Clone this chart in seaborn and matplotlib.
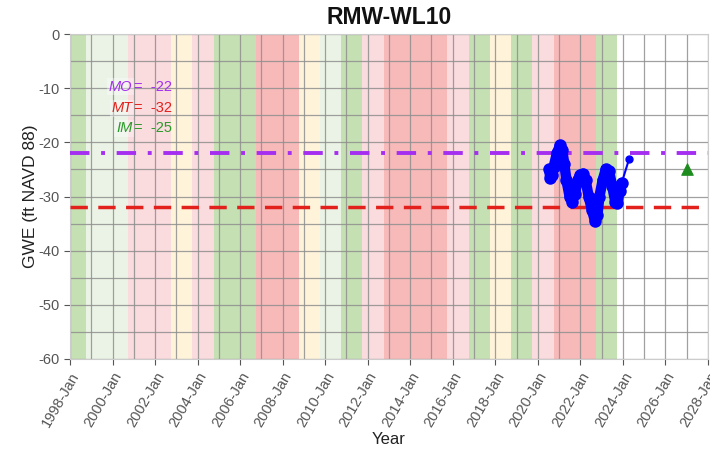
import matplotlib
matplotlib.use("Agg")
import matplotlib.pyplot as plt
import matplotlib.dates as mdates
import seaborn as sns
import pandas as pd
import numpy as np

# ---------------- data ----------------
title = "RMW-WL10"
water_years = list(range(1998, 2024))
wy_types = ["W", "AN", "AN", "D", "D", "BN", "D", "W", "W", "C", "C", "BN", "AN",
            "W", "D", "C", "C", "C", "D", "W", "BN", "W", "D", "C", "C", "W"]
wy_colors = {"W": "#c5e0b3", "AN": "#ebf3e6", "BN": "#fff4da", "D": "#fadbde", "C": "#f8b9b9"}

obs_dates = ["2020-07-15", "2020-08-01", "2020-08-25", "2020-10-01", "2020-11-25",
             "2021-01-20", "2021-02-25", "2021-04-01", "2021-05-08", "2021-07-01",
             "2021-08-15", "2021-10-01", "2021-11-15", "2022-01-01", "2022-02-15",
             "2022-04-01", "2022-05-25", "2022-07-20", "2022-09-10", "2022-10-20",
             "2022-11-25", "2023-01-20", "2023-03-15", "2023-05-08", "2023-07-01",
             "2023-08-25", "2023-10-01", "2023-11-08", "2023-12-12"]
obs_gwe = [-25.0, -26.5, -26.0, -24.5, -22.0,
           -20.5, -21.5, -24.0, -27.0, -30.0,
           -31.0, -29.5, -27.0, -26.0, -25.8,
           -27.0, -30.0, -32.5, -34.5, -33.5,
           -30.0, -27.0, -25.0, -25.3, -28.0,
           -31.0, -31.2, -29.0, -27.5]
last_date = ["2023-12-12", "2024-04-20"]
last_gwe = [-27.5, -23.0]

mo_value = -22
mt_value = -32
im_value = -25
im_date = "2027-01-01"

# ---------------- plotting ----------------
sns.set_theme(style="white")
plt.rcParams["font.family"] = ["Liberation Sans", "DejaVu Sans"]
plt.rcParams["axes.unicode_minus"] = False

fig = plt.figure(figsize=(7.10, 4.51), dpi=100)
ax = fig.add_axes([0.0986, 0.204, 0.8984, 0.7206])

# water year bands
for wy, t in zip(water_years, wy_types):
    start = pd.Timestamp(f"{wy-1}-10-01")
    end = pd.Timestamp(f"{wy}-10-01")
    ax.axvspan(start, end, color=wy_colors[t], lw=0, zorder=0)

df = pd.DataFrame({"date": pd.to_datetime(obs_dates), "gwe": obs_gwe})
sns.lineplot(data=df, x="date", y="gwe", ax=ax, color="#0000ff", lw=7.5,
             marker="o", markersize=9, markeredgewidth=0, zorder=5,
             solid_capstyle="round", solid_joinstyle="round")
df2 = pd.DataFrame({"date": pd.to_datetime(last_date), "gwe": last_gwe})
sns.lineplot(data=df2, x="date", y="gwe", ax=ax, color="#0000ff", lw=1.5, zorder=5)
ax.plot(pd.to_datetime(last_date[-1:]), last_gwe[-1:], "o", color="#0000ff", ms=5, zorder=6)

ax.axhline(mo_value, color="#a52ff0", lw=2.8, dashes=(5, 3, 1, 3), zorder=4)
ax.axhline(mt_value, color="#e3211c", lw=2.5, dashes=(5, 3), zorder=4)
dfi = pd.DataFrame({"date": pd.to_datetime([im_date]), "gwe": [im_value]})
sns.scatterplot(data=dfi, x="date", y="gwe", ax=ax, marker="^", s=70,
                color="#1e8b1e", edgecolor="#1e8b1e", zorder=6)

ax.set_xlim(pd.Timestamp("1998-01-01"), pd.Timestamp("2028-01-01"))
ax.set_ylim(-60, 0)
ax.xaxis.set_major_locator(mdates.YearLocator(2, month=1, day=1))
ax.xaxis.set_minor_locator(mdates.YearLocator(1, month=1, day=1))
ax.xaxis.set_major_formatter(mdates.DateFormatter("%Y-%b"))
ax.set_yticks(np.arange(-60, 1, 10))
ax.set_yticks(np.arange(-55, 0, 10), minor=True)

ax.grid(True, which="both", color="#8f8f8f", lw=0.9, alpha=0.85)
for gl in ax.get_xgridlines() + ax.get_ygridlines():
    gl.set_zorder(1)
ax.tick_params(axis="both", which="major", labelsize=10.5, labelcolor="#555555",
               color="#555555", length=4, width=0.8, bottom=True, left=True)
ax.tick_params(axis="x", rotation=60)
for lab in ax.get_xticklabels():
    lab.set_ha("right")
    lab.set_rotation_mode("anchor")
for s in ax.spines.values():
    s.set_color("#cccccc")
    s.set_linewidth(0.8)

ax.set_xlabel("Year", fontsize=12, color="#222222", labelpad=2)
ax.set_ylabel("GWE (ft NAVD 88)", fontsize=12.5, color="#222222", labelpad=0)
ax.set_title(title, fontsize=16.5, fontweight="bold", color="#111111", pad=7)

# threshold annotation
labels = [("MO", mo_value, "#a52ff0"), ("MT", mt_value, "#e3211c"), ("IM", im_value, "#2a9a2a")]
ys = [0.838, 0.771, 0.710]
for (name, val, col), yy in zip(labels, ys):
    ax.text(0.0975, yy, name, transform=ax.transAxes, fontsize=10.5, style="italic",
            color=col, ha="right", va="center", zorder=7,
            bbox=dict(facecolor="white", edgecolor="none", alpha=0.35, pad=1))
    ax.text(0.101, yy, f"=  {val}", transform=ax.transAxes, fontsize=10.5,
            color=col, ha="left", va="center", zorder=7)

fig.savefig("out.png", dpi=100)
